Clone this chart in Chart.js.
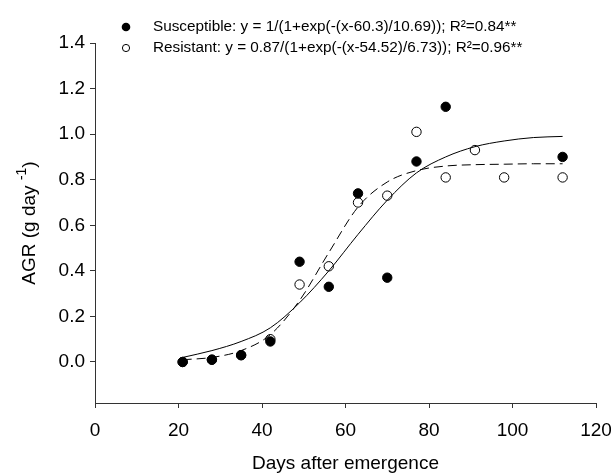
<!DOCTYPE html>
<html lang="en">
<head>
  <meta charset="UTF-8" />
  <title>AGR vs days after emergence</title>
  <script src="https://cdn.jsdelivr.net/npm/chart.js"></script>
  <style>
    html, body { margin:0; padding:0; background:#fff; }
    #wrap { width:611px; height:475px; position:relative; }
  </style>
</head>
<body>
<div id="wrap"><canvas id="agrChart"></canvas></div>
<script>
  // observed points
  const suscX = [21, 28, 35, 42, 49, 56, 63, 70, 77, 84, 112];
  const suscY = [0.00, 0.01, 0.03, 0.09, 0.44, 0.33, 0.74, 0.37, 0.88, 1.12, 0.90];
  const resX = [21, 28, 35, 42, 49, 56, 63, 70, 77, 84, 91, 98, 112];
  const resY = [0.00, 0.01, 0.03, 0.10, 0.34, 0.42, 0.70, 0.73, 1.01, 0.81, 0.93, 0.81, 0.81];

  // fitted curves
  const curveX = [21, 28, 35, 42, 49, 56, 63, 70, 77, 84, 91, 98, 105, 112];
  const suscCurve = [0.02, 0.05, 0.09, 0.15, 0.26, 0.40, 0.56, 0.71, 0.83, 0.90, 0.945, 0.97, 0.985, 0.99];
  const resCurve = [0.01, 0.02, 0.05, 0.12, 0.27, 0.48, 0.68, 0.79, 0.84, 0.86, 0.866, 0.868, 0.87, 0.87];

  const xTicks = [0, 20, 40, 60, 80, 100, 120];
  const yTicks = [0.0, 0.2, 0.4, 0.6, 0.8, 1.0, 1.2, 1.4];

  const legendLabels = [
    'Susceptible: y = 1/(1+exp(-(x-60.3)/10.69)); R²=0.84**',
    'Resistant: y = 0.87/(1+exp(-(x-54.52)/6.73)); R²=0.96**'
  ];

  const FONT = 'Arial, "Liberation Sans", sans-serif';
  const pts = (xs, ys) => xs.map((x, i) => ({ x: x, y: ys[i] }));

  // legend + y title drawn by hand to sit where the original has them
  const extras = {
    id: 'extras',
    afterDraw(chart) {
      const c = chart.ctx;
      c.save();
      c.fillStyle = '#000';
      c.strokeStyle = '#000';
      c.lineWidth = 1;
      // legend
      const rows = [27, 48];
      rows.forEach((y, i) => {
        c.beginPath();
        if (i === 0) { c.arc(126, y, 4.3, 0, Math.PI * 2); c.fill(); }
        else { c.arc(126, y, 3.6, 0, Math.PI * 2); c.fillStyle = '#fff'; c.fill(); c.stroke(); c.fillStyle = '#000'; }
        c.font = '15.3px ' + FONT;
        c.textBaseline = 'middle';
        c.textAlign = 'left';
        c.fillText(legendLabels[i], 153, y);
      });
      // y axis title with superscript
      c.translate(30, 223);
      c.rotate(-Math.PI / 2);
      const a = 'AGR (g day ', sup = '-1', b = ')';
      c.font = '14px ' + FONT;
      const ws = c.measureText(sup).width;
      c.font = '19px ' + FONT;
      const wa = c.measureText(a).width, wb = c.measureText(b).width;
      let x0 = -(wa + ws + wb) / 2;
      c.textAlign = 'left';
      c.textBaseline = 'middle';
      c.fillText(a, x0, 0);
      c.font = '14px ' + FONT;
      c.fillText(sup, x0 + wa, -8);
      c.font = '19px ' + FONT;
      c.fillText(b, x0 + wa + ws, 0);
      c.restore();
    }
  };

  new Chart(document.getElementById('agrChart'), {
    type: 'scatter',
    data: {
      datasets: [
        { label: 'Susceptible fit', type: 'line', data: pts(curveX, suscCurve), borderColor: '#000', borderWidth: 1,
          pointRadius: 0, cubicInterpolationMode: 'monotone', fill: false },
        { label: 'Resistant fit', type: 'line', data: pts(curveX, resCurve), borderColor: '#000', borderWidth: 1,
          borderDash: [9, 5], pointRadius: 0, cubicInterpolationMode: 'monotone', fill: false },
        { label: 'Susceptible', data: pts(suscX, suscY), pointRadius: 4.7, pointBackgroundColor: '#000',
          pointBorderColor: '#000', pointBorderWidth: 1 },
        { label: 'Resistant', data: pts(resX, resY), pointRadius: 4.7, pointBackgroundColor: '#fff',
          pointBorderColor: '#000', pointBorderWidth: 1 }
      ]
    },
    options: {
      responsive: true,
      maintainAspectRatio: false,
      animation: false,
      clip: false,
      layout: { padding: { top: 43, right: 15, left: 0, bottom: 0 } },
      plugins: { legend: { display: false }, tooltip: { enabled: false } },
      scales: {
        x: {
          type: 'linear', min: 0, max: 120,
          afterBuildTicks: s => { s.ticks = xTicks.map(v => ({ value: v })); },
          afterFit: s => { s.height = 72; s.paddingLeft = 0; s.paddingRight = 0; },
          grid: { drawOnChartArea: false, drawTicks: true, tickLength: 5, color: '#333' },
          border: { color: '#333', width: 1 },
          ticks: { color: '#000', font: { size: 19, family: FONT }, padding: 11, maxRotation: 0 },
          title: { display: true, text: 'Days after emergence', color: '#000', font: { size: 19, family: FONT }, padding: { top: 0, bottom: 0 } }
        },
        y: {
          type: 'linear', min: -0.18, max: 1.4,
          afterBuildTicks: s => { s.ticks = yTicks.map(v => ({ value: v })); },
          afterFit: s => { s.width = 95; s.paddingTop = 0; s.paddingBottom = 0; },
          grid: { drawOnChartArea: false, drawTicks: true, tickLength: 5, color: '#333' },
          border: { color: '#333', width: 1 },
          ticks: { color: '#000', font: { size: 19, family: FONT }, padding: 5, callback: v => v.toFixed(1) }
        }
      }
    },
    plugins: [extras]
  });
</script>
</body>
</html>
